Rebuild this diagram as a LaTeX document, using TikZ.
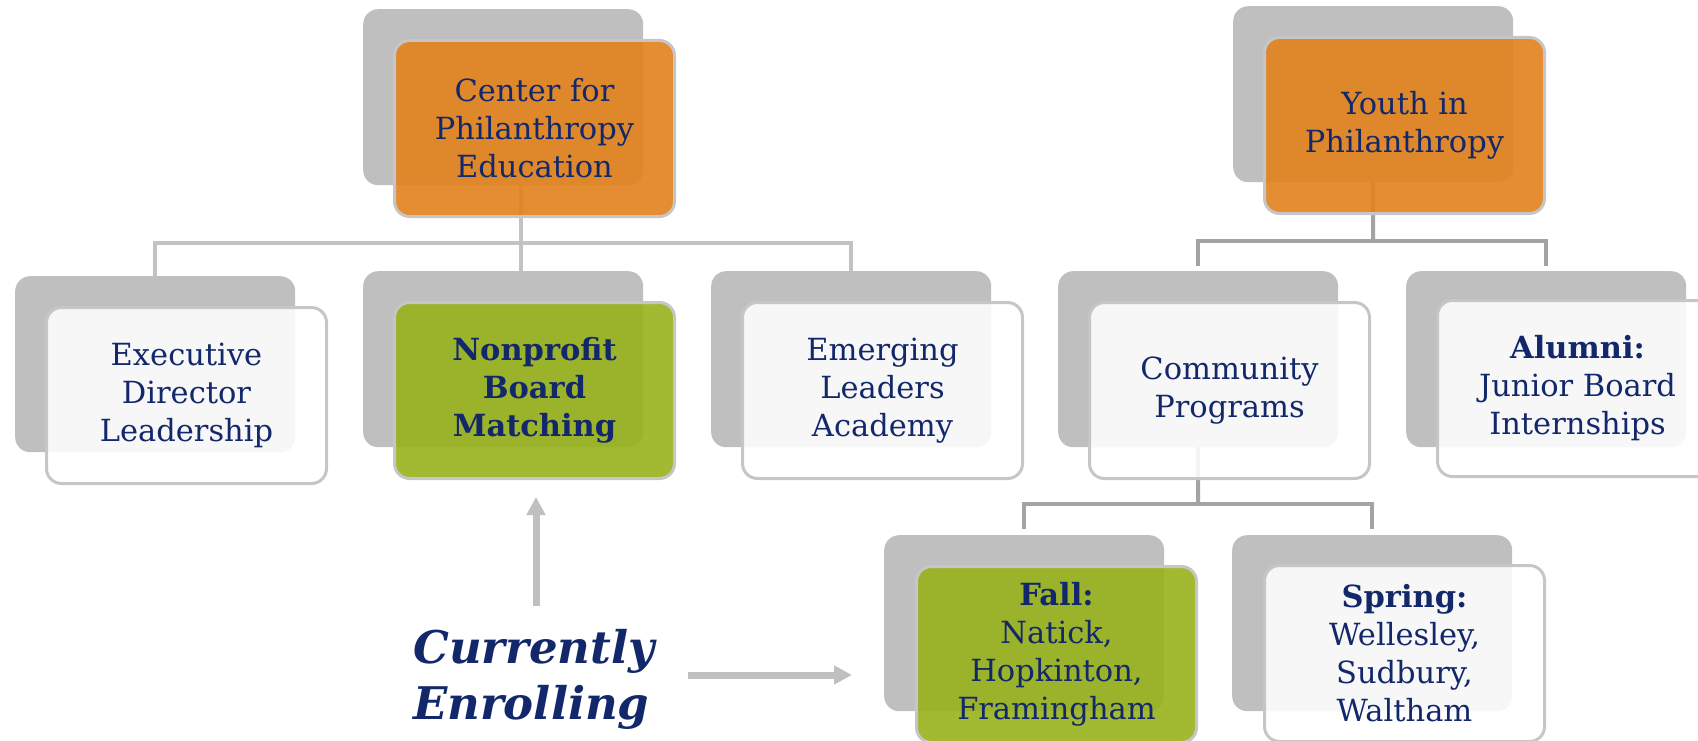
\documentclass[tikz,border=0pt]{standalone}
\usepackage{fontspec}
\setmainfont{DejaVu Serif}
\usetikzlibrary{arrows.meta}
\definecolor{navy}{HTML}{13286A}
\definecolor{backgray}{HTML}{BFBFBF}
\definecolor{bordergray}{HTML}{C6C6C6}
\definecolor{orangefill}{HTML}{E2811C}
\definecolor{greenfill}{HTML}{98B11C}
\definecolor{lightline}{HTML}{C3C3C3}
\definecolor{darkline}{HTML}{A3A3A3}
\definecolor{arrowgray}{HTML}{C0C0C0}
\tikzset{
  backbox/.style={fill=backgray, rounded corners=15pt, minimum width=280pt,
    minimum height=176pt, anchor=north west, inner sep=0pt},
  frontbox/.style={draw=bordergray, line width=3pt, rounded corners=15pt,
    minimum width=280pt, minimum height=176pt, anchor=north west, inner sep=0pt,
    fill opacity=0.9, text opacity=1, align=center, text=navy,
    font=\fontsize{30.5}{38}\selectfont},
  orangebox/.style={frontbox, fill=orangefill},
  greenbox/.style={frontbox, fill=greenfill},
  whitebox/.style={frontbox, fill=white, fill opacity=0.88},
  lline/.style={draw=lightline, line width=4pt},
  dline/.style={draw=darkline, line width=4pt},
  garrow/.style={draw=arrowgray, line width=7pt, -{Triangle[length=18pt,width=18pt]}},
}
\begin{document}
\begin{tikzpicture}[x=1pt,y=-1pt]
\useasboundingbox (0,0) rectangle (1698,741);
% back boxes
\node[backbox] (cB) at (363,9) {};
\node[backbox] (exB) at (15,276) {};
\node[backbox] (nB) at (363,271) {};
\node[backbox] (emB) at (711,271) {};
\node[backbox] (yB) at (1233,6) {};
\node[backbox] (cmB) at (1058,271) {};
\node[backbox] (alB) at (1406,271) {};
\node[backbox] (faB) at (884,535) {};
\node[backbox] (spB) at (1232,535) {};
% connectors
\coordinate (lj) at (521,243);
\draw[lline] ([xshift=18pt]cB.south) -- ([xshift=18pt]cB.south |- nB.north);
\draw[lline] (exB.north) |- (lj) -| (emB.north);
\coordinate (rj) at (1373,241);
\draw[dline] (yB.south) -- (rj);
\draw[dline] ([yshift=5pt]cmB.north) |- (rj) -| ([yshift=5pt]alB.north);
\coordinate (cj) at (1198,504);
\draw[dline] (cmB.south) -- (cj);
\draw[dline] ([yshift=6pt]faB.north) |- (cj) -| ([yshift=6pt]spB.north);
% front boxes
\node[orangebox] (c) at (393,39) {Center for\\Philanthropy\\Education};
\node[whitebox] (ex) at (45,306) {Executive\\Director\\Leadership};
\node[greenbox] (n) at (393,301) {\bfseries Nonprofit\\\bfseries Board\\\bfseries Matching};
\node[whitebox] (em) at (741,301) {Emerging\\Leaders\\Academy};
\node[orangebox] (y) at (1263,36) {Youth in\\Philanthropy};
\node[whitebox] (cm) at (1088,301) {Community\\Programs};
\node[whitebox] (al) at (1436,299) {\textbf{Alumni:}\\Junior Board\\Internships};
\node[greenbox] (fa) at (915,565) {\textbf{Fall:}\\Natick,\\Hopkinton,\\Framingham};
\node[whitebox] (sp) at (1263,564) {\textbf{Spring:}\\Wellesley,\\Sudbury,\\Waltham};
% currently enrolling
\node[anchor=west, align=left, inner sep=0pt, text=navy,
  font=\bfseries\itshape\fontsize{45}{56}\selectfont] (ce) at (413,679) {Currently\\Enrolling};
\coordinate (ua1) at (536,606);
\coordinate (ua2) at (536,497);
\draw[garrow] (ua1) -- (ua2);
\coordinate (ra1) at (688,675);
\coordinate (ra2) at (852,675);
\draw[garrow] (ra1) -- (ra2);
\end{tikzpicture}
\end{document}
